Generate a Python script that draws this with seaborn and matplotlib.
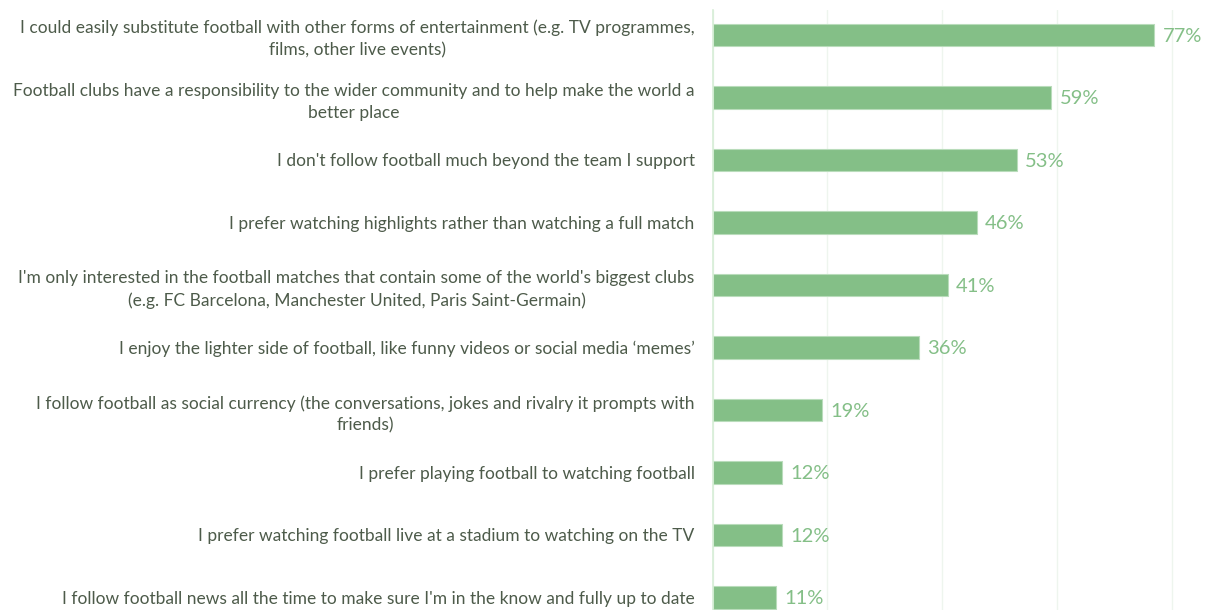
import matplotlib
matplotlib.use("Agg")
import matplotlib.pyplot as plt
import seaborn as sns
import pandas as pd

statements = [
    "I could easily substitute football with other forms of entertainment (e.g. TV programmes,\nfilms, other live events)",
    "Football clubs have a responsibility to the wider community and to help make the world a\nbetter place",
    "I don't follow football much beyond the team I support",
    "I prefer watching highlights rather than watching a full match",
    "I'm only interested in the football matches that contain some of the world's biggest clubs\n(e.g. FC Barcelona, Manchester United, Paris Saint-Germain)",
    "I enjoy the lighter side of football, like funny videos or social media \u2018memes\u2019",
    "I follow football as social currency (the conversations, jokes and rivalry it prompts with\nfriends)",
    "I prefer playing football to watching football",
    "I prefer watching football live at a stadium to watching on the TV",
    "I follow football news all the time to make sure I'm in the know and fully up to date",
]
percent = [77, 59, 53, 46, 41, 36, 19, 12, 12, 11]
grid_ticks = [0, 20, 40, 60, 80]

BAR = "#84bf87"
TEXT = "#4d5b4a"

sns.set_theme(style="white")
plt.rcParams['font.family'] = ['Lato', 'DejaVu Sans']

df = pd.DataFrame({"statement": statements, "percent": percent})

fig = plt.figure(figsize=(12.06, 6.10), dpi=100)
ax = fig.add_axes([0.591, 0.0, 0.409, 0.984])

sns.barplot(data=df, x="percent", y="statement", color=BAR, width=0.36,
            edgecolor="#b9dcbb", linewidth=0.8, saturation=1, ax=ax)

ax.set_xlim(0, 86)
ax.set_ylim(len(percent) - 1 + 0.2, -0.4)
ax.set_xticks(grid_ticks)
ax.set_xticklabels([])
ax.xaxis.grid(True, color="#eef5ee", linewidth=1)
ax.set_axisbelow(True)
ax.set_xlabel("")
ax.set_ylabel("")

for s in ["top", "right", "bottom"]:
    ax.spines[s].set_visible(False)
ax.spines["left"].set_color("#d6edd6")
ax.spines["left"].set_linewidth(1.2)

ax.tick_params(axis="y", length=0, pad=13)
ax.tick_params(axis="x", length=0)
for lab in ax.get_yticklabels():
    lab.set_fontsize(12.5)
    lab.set_color(TEXT)
    lab.set_fontweight("normal")
    lab.set_multialignment("center")
    lab.set_linespacing(1.45)

texts = ax.bar_label(ax.containers[0], labels=[f"{v}%" for v in percent], padding=6,
                     color=BAR, fontsize=14.5, fontweight="normal")
for t in texts:
    t.set_va("center_baseline")

fig.savefig("out.png", dpi=100)
